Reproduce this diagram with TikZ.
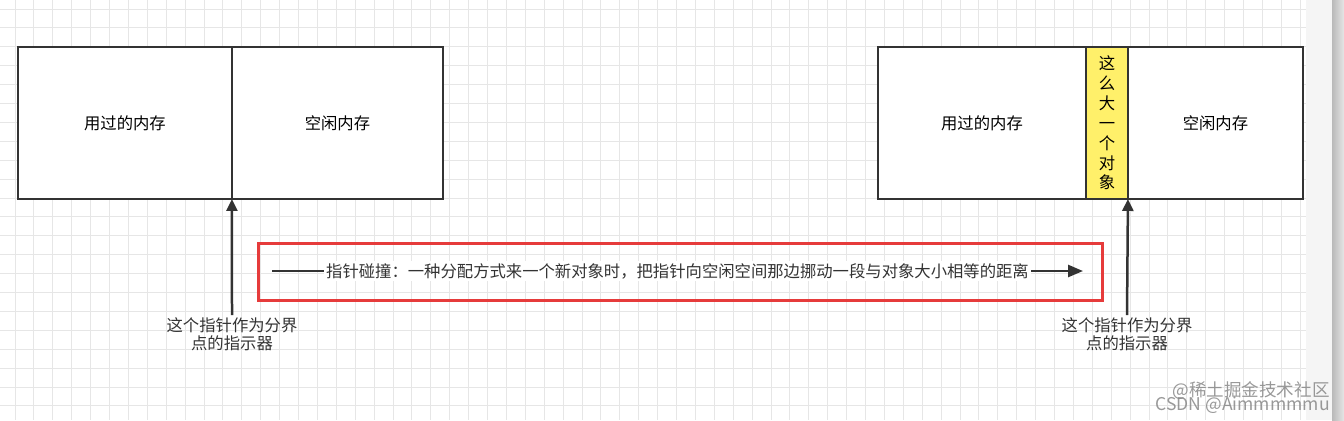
\documentclass[tikz,border=0pt]{standalone}
\usepackage{fontspec}
\setmainfont{Noto Sans CJK SC}
\usetikzlibrary{arrows.meta,positioning}
\definecolor{boxline}{HTML}{333333}
\definecolor{objfill}{HTML}{FFF06A}
\definecolor{redline}{HTML}{E63B3B}
\definecolor{gridline}{HTML}{E6E6E6}
\tikzset{
    membox/.style={draw=boxline,line width=0.045cm,fill=white,anchor=north west,
        minimum height=3.04cm,inner sep=0pt,outer sep=0pt,font=\fontsize{9.3}{11}\selectfont},
    ptr/.style={draw=boxline,line width=0.05cm,-{Triangle[length=0.24cm,width=0.22cm]}},
    note/.style={align=center,inner sep=1pt,font=\fontsize{9.3}{10.4}\selectfont,text=boxline},
    wmark/.style={anchor=east,inner sep=0pt,text=gray,opacity=0.8,font=\fontsize{10}{12}\selectfont},
}
\begin{document}
\begin{tikzpicture}[x=0.02cm,y=-0.02cm]
    \useasboundingbox (0,0) rectangle (1344,420);
    %background grid
    \fill[white] (0,0) rectangle (1306,420);
    \foreach \gx in {15,33.9,...,1306} \draw[gridline,line width=0.02cm] (\gx,0) -- (\gx,420);
    \foreach \gy in {9,27.9,...,420} \draw[gridline,line width=0.02cm] (0,\gy) -- (1306,\gy);
    \fill[gray!8] (1306,0) rectangle (1332,420);
    \shade[left color=gray!55,right color=gray!20] (1332,0) rectangle (1344,420);
    %memory before
    \node[membox,minimum width=4.28cm] (usedL) at (18,47) {用过的内存};
    \node[membox,minimum width=4.22cm] (freeL) at (usedL.north east) {空闲内存};
    %memory after
    \node[membox,minimum width=4.16cm] (usedR) at (878,47) {用过的内存};
    \node[membox,minimum width=0.84cm,fill=objfill,font=\fontsize{9.3}{11.3}\selectfont,align=center] (objR) at (usedR.north east) {这\\么\\大\\一\\个\\对\\象};
    \node[membox,minimum width=3.5cm] (freeR) at (objR.north east) {空闲内存};
    %pointers
    \coordinate (ptrL) at (usedL.south east);
    \coordinate (ptrR) at (objR.south east);
    \node[note] (tipL) at (232,334) {这个指针作为分界\\点的指示器};
    \node[note] (tipR) at (1127,334) {这个指针作为分界\\点的指示器};
    \draw[ptr] (tipL.north) -- (ptrL);
    \draw[ptr] (tipR.north) -- (ptrR);
    %bump the pointer
    \node[draw=redline,line width=0.06cm,minimum width=16.9cm,minimum height=1.14cm,inner sep=0pt] (bump) at (680.5,271.5) {};
    \coordinate (bumpA) at (272,271);
    \coordinate (bumpB) at (1083,271);
    \draw[draw=boxline,line width=0.05cm,-{Triangle[length=0.3cm,width=0.24cm]}] (bumpA) -- node[fill=white,inner sep=1pt,font=\fontsize{9.3}{11}\selectfont,text=boxline] (bumpText) {指针碰撞：一种分配方式来一个新对象时，把指针向空闲空间那边挪动一段与对象大小相等的距离} (bumpB);
    %watermark
    \node[wmark] (wmA) at (1330,391) {@稀土掘金技术社区};
    \node[wmark] (wmB) at (1330,405) {CSDN @Aimmmmmu};
\end{tikzpicture}
\end{document}
